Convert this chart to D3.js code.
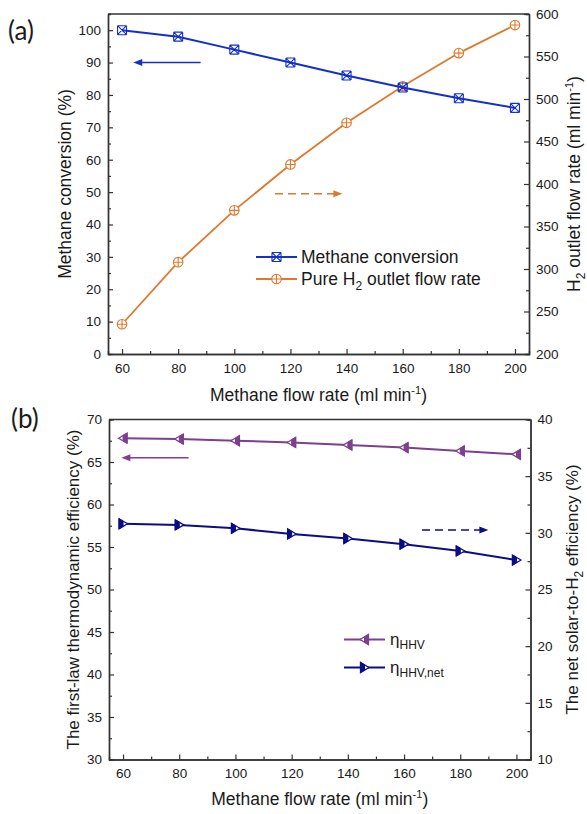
<!DOCTYPE html>
<html><head><meta charset="utf-8">
<script src="https://cdn.jsdelivr.net/npm/d3@7"></script>
<style>
body{margin:0;background:#fff}
svg text{font-family:"Liberation Sans",Arial,sans-serif;fill:#1a1a1a}
</style>
</head><body><svg id="c" width="587" height="814"></svg>
<script>
// ---------- data ----------
const flowRates=[60,80,100,120,140,160,180,200];
const methaneConversion=[100,98,94,90,86,82.3,79,76];
const h2Outlet=[235,308,369,423,472,515,554,587];
const etaHHV=[67.8,67.7,67.5,67.3,67.0,66.7,66.3,65.9];
const etaHHVnet=[30.8,30.7,30.4,29.9,29.5,29.0,28.4,27.6];
const xTicks=[60,80,100,120,140,160,180,200];
const xMinor=[70,90,110,130,150,170,190];
const aLeftTicks=[0,10,20,30,40,50,60,70,80,90,100];
const aLeftMinor=[5,15,25,35,45,55,65,75,85,95];
const aRightTicks=[200,250,300,350,400,450,500,550,600];
const aRightMinor=[225,275,325,375,425,475,525,575];
const bLeftTicks=[30,35,40,45,50,55,60,65,70];
const bLeftMinor=[32.5,37.5,42.5,47.5,52.5,57.5,62.5,67.5];
const bRightTicks=[10,15,20,25,30,35,40];
const bRightMinor=[12.5,17.5,22.5,27.5,32.5,37.5];

const C={blue:"#1530c8",orange:"#e0782c",purple:"#7d3f8f",navy:"#0c0c86",axis:"#333"};
const svg=d3.select("#c");

// ---------- helpers ----------
function frame(g,x,y,yR,lt,lm,rt,rm){
  const w=x.range()[1],h=y.range()[0];
  const styleAx=a=>{a.select(".domain").attr("stroke",C.axis).attr("stroke-width",1.4);
    a.selectAll(".tick line").attr("stroke",C.axis).attr("stroke-width",1.2);
    a.selectAll(".tick text").attr("font-size",13.5).attr("fill","#1a1a1a")
      .style("font-family",'"Liberation Sans",Arial,sans-serif');};
  g.append("line").attr("x1",0).attr("x2",w).attr("y1",0).attr("y2",0).attr("stroke",C.axis).attr("stroke-width",1.4);
  g.append("g").attr("transform",`translate(0,${h})`).call(d3.axisBottom(x).tickValues(xMinor).tickSize(-3).tickFormat("")).call(styleAx);
  g.append("g").attr("transform",`translate(0,${h})`).call(d3.axisBottom(x).tickValues(xTicks).tickSize(-5).tickSizeOuter(0).tickPadding(9)).call(styleAx);
  g.append("g").call(d3.axisLeft(y).tickValues(lm).tickSize(-3).tickFormat("")).call(styleAx);
  g.append("g").call(d3.axisLeft(y).tickValues(lt).tickSize(-5).tickSizeOuter(0).tickPadding(7)).call(styleAx);
  g.append("g").attr("transform",`translate(${w},0)`).call(d3.axisRight(yR).tickValues(rm).tickSize(-3).tickFormat("")).call(styleAx);
  g.append("g").attr("transform",`translate(${w},0)`).call(d3.axisRight(yR).tickValues(rt).tickSize(-5).tickSizeOuter(0).tickPadding(7)).call(styleAx);
}
function arrow(g,x1,x2,y,color,dashed){
  const dir=Math.sign(x2-x1);
  g.append("line").attr("x1",x1).attr("x2",x2-dir*6).attr("y1",y).attr("y2",y)
   .attr("stroke",color).attr("stroke-width",1.6).attr("stroke-dasharray",dashed?"8,5":null);
  g.append("path").attr("d",`M${x2},${y}L${x2-dir*9},${y-3.5}L${x2-dir*9},${y+3.5}Z`).attr("fill",color);
}
const markX=s=>`M${-s},${-s}L${s},${s}M${s},${-s}L${-s},${s}M${-s},${-s}L${s},${-s}M${-s},${s}L${s},${s}M${-s},${-s}L${-s},${s}M${s},${-s}L${s},${s}`;
function mMethane(g,cx,cy){g.append("path").attr("transform",`translate(${cx},${cy})`).attr("d",markX(4.5)).attr("fill","none").attr("stroke",C.blue).attr("stroke-width",1.1);}
function mH2(g,cx,cy){const m=g.append("g").attr("transform",`translate(${cx},${cy})`);
  m.append("circle").attr("r",4.8).attr("fill","#fff").attr("stroke",C.orange).attr("stroke-width",1.1);
  m.append("path").attr("d","M-4.8,0H4.8M0,-4.8V4.8").attr("stroke",C.orange).attr("stroke-width",1.1);}
function mTri(g,cx,cy,color,dir){const m=g.append("g").attr("transform",`translate(${cx},${cy}) scale(${dir},1)`);
  // dir=-1 left pointing, 1 right pointing
  m.append("path").attr("d","M4.5,0L-4,-5L-4,5Z").attr("fill","#fff").attr("stroke",color).attr("stroke-width",1.3).attr("stroke-linejoin","miter");
  m.append("path").attr("d","M0,-2.65L-4,-5L-4,5L0,2.65Z").attr("fill",color).attr("stroke",color).attr("stroke-width",1);}
function vTitle(x,y,parts,size){
  const t=svg.append("text").attr("transform",`translate(${x},${y}) rotate(-90)`).attr("text-anchor","middle").attr("font-size",size);
  parts.forEach(p=>{const s=t.append("tspan").text(p.t);if(p.dy)s.attr("dy",p.dy);if(p.fs)s.attr("font-size",p.fs);});
  return t;}
function hTitle(x,y,parts,size){
  const t=svg.append("text").attr("x",x).attr("y",y).attr("text-anchor","middle").attr("font-size",size);
  parts.forEach(p=>{const s=t.append("tspan").text(p.t);if(p.dy)s.attr("dy",p.dy);if(p.fs)s.attr("font-size",p.fs);});
  return t;}

// ---------- panel (a) ----------
const A={l:108,t:14,w:421,h:340};
const gA=svg.append("g").attr("transform",`translate(${A.l},${A.t})`);
const xA=d3.scaleLinear().domain([55,205]).range([0,A.w]);
const yA=d3.scaleLinear().domain([0,105]).range([A.h,0]);
const yAR=d3.scaleLinear().domain([200,600]).range([A.h,0]);
frame(gA,xA,yA,yAR,aLeftTicks,aLeftMinor,aRightTicks,aRightMinor);
const lineH2=d3.line().x((d,i)=>xA(flowRates[i])).y(d=>yAR(d));
const lineMC=d3.line().x((d,i)=>xA(flowRates[i])).y(d=>yA(d));
gA.append("path").datum(h2Outlet).attr("d",lineH2).attr("fill","none").attr("stroke",C.orange).attr("stroke-width",1.8);
h2Outlet.forEach((d,i)=>mH2(gA,xA(flowRates[i]),yAR(d)));
gA.append("path").datum(methaneConversion).attr("d",lineMC).attr("fill","none").attr("stroke",C.blue).attr("stroke-width",2);
methaneConversion.forEach((d,i)=>mMethane(gA,xA(flowRates[i]),yA(d)));
arrow(gA,xA(88),xA(64),yA(90),C.blue,false);
arrow(gA,xA(114.5),xA(138.5),yA(49.5),C.orange,true);
// legend (a)
const lgA=gA.append("g").attr("transform",`translate(${148},${243})`);
lgA.append("line").attr("x1",0).attr("x2",41).attr("y1",0).attr("y2",0).attr("stroke",C.blue).attr("stroke-width",2);
mMethane(lgA,20.5,0);
lgA.append("text").attr("x",45).attr("y",6).attr("font-size",17.5).text("Methane conversion");
lgA.append("line").attr("x1",0).attr("x2",41).attr("y1",22).attr("y2",22).attr("stroke",C.orange).attr("stroke-width",2);
mH2(lgA,20.5,22);
const tA=lgA.append("text").attr("x",45).attr("y",28).attr("font-size",17.5);
tA.append("tspan").text("Pure H");tA.append("tspan").attr("font-size",12).attr("dy",5).text("2");
tA.append("tspan").attr("dy",-5).text(" outlet flow rate");
// titles (a)
svg.append("text").attr("x",8).attr("y",40).attr("font-size",26).style("font-family","Lato,'Open Sans',sans-serif").text("(a)");
vTitle(70.5,A.t+A.h/2,[{t:"Methane conversion (%)"}],17.5);
vTitle(580,A.t+A.h/2,[{t:"H"},{t:"2",fs:12,dy:5},{t:" outlet flow rate (ml min",dy:-5},{t:"-1",fs:11,dy:-7},{t:")",dy:7}],17.5);
hTitle(A.l+A.w/2,401,[{t:"Methane flow rate (ml min"},{t:"-1",fs:11,dy:-7},{t:")",dy:7}],17.5);

// ---------- panel (b) ----------
const B={l:109,t:419.5,w:421.5,h:340};
const gB=svg.append("g").attr("transform",`translate(${B.l},${B.t})`);
const xB=d3.scaleLinear().domain([55,205]).range([0,B.w]);
const yB=d3.scaleLinear().domain([30,70]).range([B.h,0]);
const yBR=d3.scaleLinear().domain([10,40]).range([B.h,0]);
frame(gB,xB,yB,yBR,bLeftTicks,bLeftMinor,bRightTicks,bRightMinor);
gB.append("path").datum(etaHHV).attr("d",d3.line().x((d,i)=>xB(flowRates[i])).y(d=>yB(d))).attr("fill","none").attr("stroke",C.purple).attr("stroke-width",2);
etaHHV.forEach((d,i)=>mTri(gB,xB(flowRates[i]),yB(d),C.purple,-1));
gB.append("path").datum(etaHHVnet).attr("d",d3.line().x((d,i)=>xB(flowRates[i])).y(d=>yBR(d))).attr("fill","none").attr("stroke",C.navy).attr("stroke-width",2);
etaHHVnet.forEach((d,i)=>mTri(gB,xB(flowRates[i]),yBR(d),C.navy,1));
arrow(gB,xB(83.3),xB(59.4),yB(65.5),C.purple,false);
arrow(gB,xB(166.4),xB(190),yB(57),C.navy,true);
// legend (b)
const lgB=gB.append("g").attr("transform",`translate(${235},${220})`);
lgB.append("line").attr("x1",0).attr("x2",41).attr("y1",0).attr("y2",0).attr("stroke",C.purple).attr("stroke-width",2);
mTri(lgB,20.5,0,C.purple,-1);
const e1=lgB.append("text").attr("x",46).attr("y",5).attr("font-size",17);
e1.append("tspan").text("η");e1.append("tspan").attr("font-size",12).attr("dy",4).text("HHV");
lgB.append("line").attr("x1",0).attr("x2",41).attr("y1",28).attr("y2",28).attr("stroke",C.navy).attr("stroke-width",2);
mTri(lgB,20.5,28,C.navy,1);
const e2=lgB.append("text").attr("x",46).attr("y",33).attr("font-size",17);
e2.append("tspan").text("η");e2.append("tspan").attr("font-size",12).attr("dy",4).text("HHV,net");
// titles (b)
svg.append("text").attr("x",11).attr("y",428).attr("font-size",26).style("font-family","Lato,'Open Sans',sans-serif").text("(b)");
vTitle(78.5,B.t+B.h/2,[{t:"The first-law thermodynamic efficiency (%)"}],17);
vTitle(578,B.t+B.h/2,[{t:"The net solar-to-H"},{t:"2",fs:12,dy:5},{t:" efficiency (%)",dy:-5}],17);
hTitle(B.l+B.w/2,805,[{t:"Methane flow rate (ml min"},{t:"-1",fs:11,dy:-7},{t:")",dy:7}],17.5);
</script></body></html>
